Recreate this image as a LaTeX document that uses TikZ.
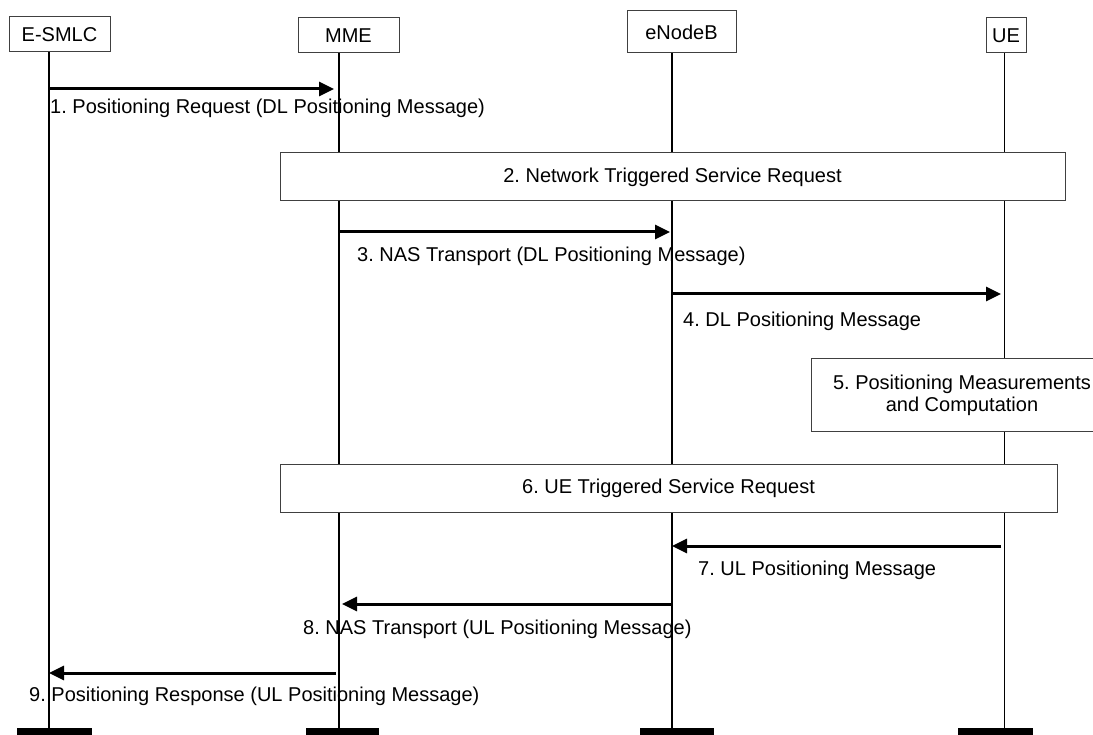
\documentclass[tikz,border=0pt]{standalone}
\usepackage{fontspec}
\setmainfont{Liberation Sans}
\usetikzlibrary{arrows.meta, positioning}
\frenchspacing

\begin{document}
\begin{tikzpicture}[x=1pt, y=-1pt,
    every node/.style={font=\fontsize{20}{22}\selectfont, text=black},
    head/.style={draw=black!75, line width=1pt, inner sep=0pt, minimum height=35pt},
    stepbox/.style={draw=black!75, fill=white, line width=1pt, inner sep=0pt, align=center},
    bar/.style={fill=black, inner sep=0pt, minimum height=7pt},
    msg/.style={line width=3pt, -{Triangle[length=15pt, width=14pt]}},
    lbl/.style={anchor=base west, inner sep=0pt}]
    \useasboundingbox (0,0) rectangle (1093,735);
    \clip (0,0) rectangle (1093,735);

    % Entities
    \node[head, minimum width=101pt] (esmlc) at (59.5,34.5) {E-SMLC};
    \node[head, minimum width=101pt] (mme) at (348.5,35.5) {MME};
    \node[head, minimum width=109pt, minimum height=42pt] (enb) at (681.5,32) {eNodeB};
    \node[head, minimum width=40pt] (ue) at (1006,35.5) {UE};

    % End bars
    \node[bar, minimum width=75pt] (esmlc-bar) at (54.5,731.5) {};
    \node[bar, minimum width=73pt] (mme-bar) at (342.5,731.5) {};
    \node[bar, minimum width=74pt] (enb-bar) at (677,731.5) {};
    \node[bar, minimum width=75pt] (ue-bar) at (995.5,731.5) {};

    % Lifelines
    \foreach \n/\x/\lw in {esmlc/49/2pt, mme/339/2pt, enb/672/2pt, ue/1004/1pt} {
        \coordinate (\n-x) at (\x,0);
        \draw[line width=\lw] (\n-x |- \n.south) -- (\n-x |- \n-bar.north);
    }

    % Message rows
    \foreach \m/\y in {m1/89, m3/232, m4/294, m7/546, m8/604, m9/673}
        \coordinate (\m) at (0,\y);

    % Procedure boxes
    \node[stepbox, minimum width=785pt, minimum height=48pt] (s2) at (672.5,177) {2. Network Triggered Service Request};
    \node[stepbox, minimum width=302pt, minimum height=72pt] (s5) at (962,395) {5. Positioning Measurements\\and Computation};
    \node[stepbox, minimum width=777pt, minimum height=48pt] (s6) at (668.5,488) {6. UE Triggered Service Request};

    % Messages
    \draw[msg, shorten >=5pt] (esmlc-x |- m1) -- (mme-x |- m1);
    \draw[msg, shorten >=2pt] (mme-x |- m3) -- (enb-x |- m3);
    \draw[msg, shorten >=3pt] (enb-x |- m4) -- (ue-x |- m4);
    \draw[msg, shorten <=3pt] (ue-x |- m7) -- (enb-x |- m7);
    \draw[msg, shorten >=3pt] (enb-x |- m8) -- (mme-x |- m8);
    \draw[msg, shorten <=3pt] (mme-x |- m9) -- (esmlc-x |- m9);

    % Message labels
    \node[lbl] (l1) at (50,114) {1. Positioning Request (DL Positioning Message)};
    \node[lbl] (l3) at (357,262) {3. NAS Transport (DL Positioning Message)};
    \node[lbl] (l4) at (683,327) {4. DL Positioning Message};
    \node[lbl] (l7) at (698,575) {7. UL Positioning Message};
    \node[lbl] (l8) at (303,634) {8. NAS Transport (UL Positioning Message)};
    \node[lbl] (l9) at (29,701) {9. Positioning Response (UL Positioning Message)};
\end{tikzpicture}
\end{document}
